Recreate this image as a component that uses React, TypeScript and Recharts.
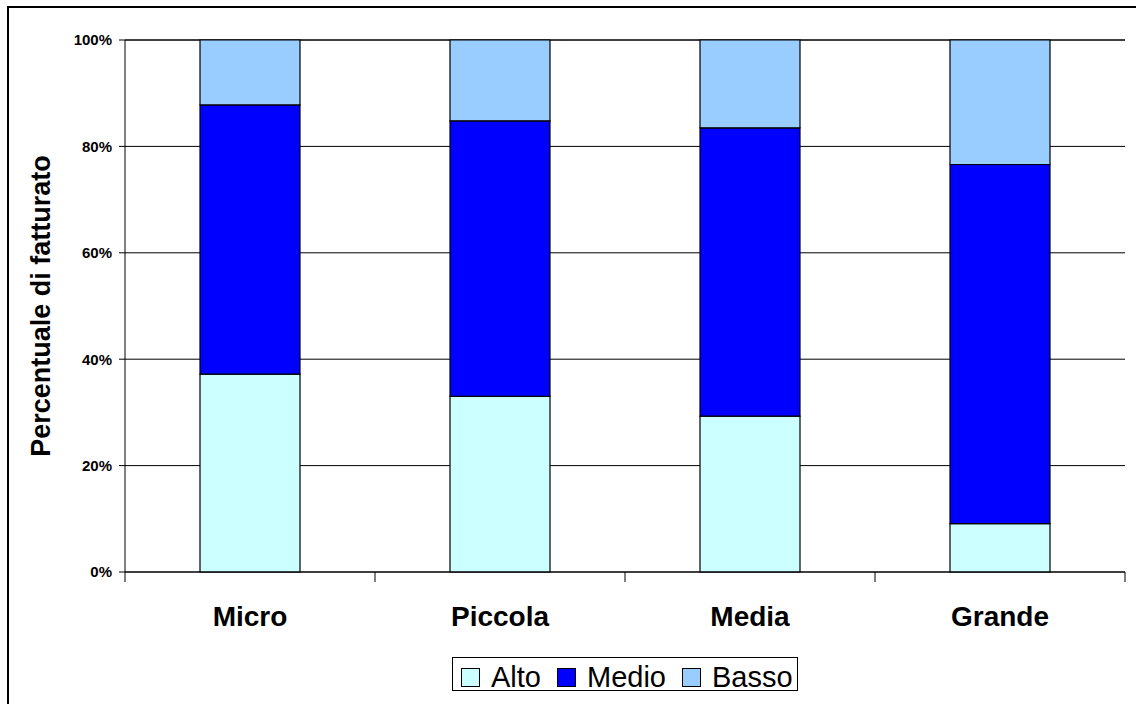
import React from "react";
import {
  BarChart,
  Bar,
  XAxis,
  YAxis,
  CartesianGrid,
  Legend,
  Label,
} from "recharts";

const categories = ["Micro", "Piccola", "Media", "Grande"];
const seriesNames = ["Alto", "Medio", "Basso"];
const alto = [37.2, 33.0, 29.3, 9.1];
const medio = [50.6, 51.8, 54.2, 67.5];
const basso = [12.2, 15.2, 16.5, 23.4];
const yTicks = [0, 20, 40, 60, 80, 100];

const COLORS: Record<string, string> = { Alto: "#CCFFFF", Medio: "#0000FF", Basso: "#99CCFF" };
const FONT = "'Liberation Sans', Arial, Helvetica, sans-serif";
const BAND = 250;

const data = categories.map((name, i) => ({
  name,
  Alto: alto[i],
  Medio: medio[i],
  Basso: basso[i],
}));

function CategoryTick(props: any) {
  const { x, y, payload } = props;
  const half = BAND / 2;
  const isLast = payload.value === categories[categories.length - 1];
  return (
    <g>
      <line x1={x - half} x2={x - half} y1={y} y2={y + 10} stroke="#000" />
      {isLast && <line x1={x + half} x2={x + half} y1={y} y2={y + 10} stroke="#000" />}
      <text
        x={x}
        y={y + 54}
        textAnchor="middle"
        fontFamily={FONT}
        fontWeight="bold"
        fontSize={28}
        fill="#000"
      >
        {payload.value}
      </text>
    </g>
  );
}

function YTitle() {
  return (
    <text
      transform="translate(50,306) rotate(-90)"
      textAnchor="middle"
      fontFamily={FONT}
      fontWeight="bold"
      fontSize={27}
      fill="#000"
    >
      Percentuale di fatturato
    </text>
  );
}

// legend in series order (Recharts would sort it by name)
function LegendBox() {
  return (
    <div
      style={{
        boxSizing: "border-box",
        width: 346,
        height: 34,
        border: "1px solid #000",
        paddingLeft: 8,
        whiteSpace: "nowrap",
        fontFamily: FONT,
        fontSize: 29,
        lineHeight: "32px",
        background: "#fff",
        textAlign: "left",
      }}
    >
      {seriesNames.map((name, i) => (
        <span key={name} style={{ position: "relative", top: 3 }}>
          <span
            style={{
              display: "inline-block",
              width: 17,
              height: 17,
              border: "1px solid #000",
              background: COLORS[name],
              marginRight: 11,
              verticalAlign: "baseline",
            }}
          />
          <span style={{ marginRight: i < seriesNames.length - 1 ? 16 : 0 }}>{name}</span>
        </span>
      ))}
    </div>
  );
}

export default function App() {
  return (
    <div
      style={{
        position: "absolute",
        left: 0,
        top: 0,
        width: 1136,
        height: 704,
        overflow: "hidden",
        background: "#fff",
      }}
    >
      <div
        style={{
          position: "absolute",
          left: 7,
          top: 6,
          width: 1160,
          height: 740,
          border: "2px solid #000",
        }}
      />
      <div style={{ position: "absolute", left: 0, top: 0 }}>
        <BarChart
          width={1136}
          height={704}
          data={data}
          margin={{ top: 40, right: 11, bottom: 0, left: 0 }}
          barSize={100}
        >
          <CartesianGrid vertical={false} stroke="#000" />
          <XAxis
            dataKey="name"
            height={132}
            tickSize={0}
            tickMargin={0}
            tickLine={false}
            axisLine={{ stroke: "#000" }}
            tick={<CategoryTick />}
            interval={0}
          />
          <YAxis
            width={125}
            domain={[0, 100]}
            ticks={yTicks}
            interval={0}
            tickFormatter={(v: number) => `${v}%`}
            tickSize={6}
            tickMargin={7}
            tickLine={{ stroke: "#000" }}
            axisLine={{ stroke: "#000" }}
            tick={{ fill: "#000", fontFamily: FONT, fontWeight: "bold", fontSize: 15 }}
          >
            <Label content={<YTitle />} />
          </YAxis>
          <YAxis
            yAxisId="r"
            orientation="right"
            width={0}
            domain={[0, 100]}
            tick={false}
            tickLine={false}
            axisLine={{ stroke: "#808080" }}
          />
          <Legend
            layout="horizontal"
            align="center"
            verticalAlign="middle"
            content={<LegendBox />}
            wrapperStyle={{ position: "absolute", left: 452, top: 657, width: 346, height: 34 }}
          />
          <Bar dataKey="Alto" stackId="a" fill={COLORS.Alto} stroke="#000" strokeWidth={1.2} isAnimationActive={false} />
          <Bar dataKey="Medio" stackId="a" fill={COLORS.Medio} stroke="#000" strokeWidth={1.2} isAnimationActive={false} />
          <Bar dataKey="Basso" stackId="a" fill={COLORS.Basso} stroke="#000" strokeWidth={1.2} isAnimationActive={false} />
        </BarChart>
      </div>
    </div>
  );
}
